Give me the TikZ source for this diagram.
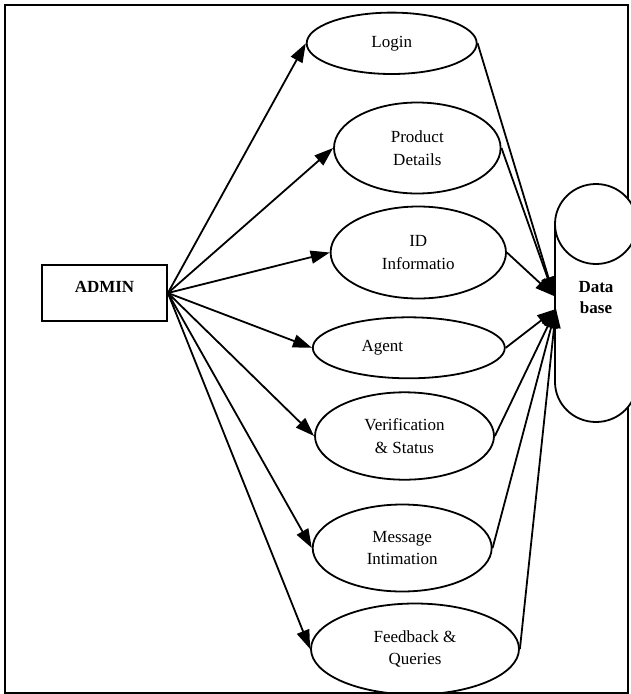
\documentclass[tikz,border=0pt]{standalone}
\usepackage{fontspec}
\setmainfont{Liberation Serif}
\usetikzlibrary{shapes.geometric,arrows.meta}
\begin{document}
\begin{tikzpicture}[x=1pt,y=-1pt,
  usecase/.style={draw=black, line width=1.8pt, ellipse, inner sep=0pt, align=center,
    font=\fontsize{17}{22.8}\selectfont},
  actor/.style={draw=black, line width=1.8pt, rectangle, inner sep=0pt,
    minimum width=125pt, minimum height=56pt},
  boldtext/.style={align=center, font=\bfseries\fontsize{17}{21.6}\selectfont},
  flow/.style={line width=1.8pt, -{Triangle[length=19pt,width=13pt]}},
  outline/.style={line width=1.8pt}]
\useasboundingbox (0,0) rectangle (631,694);
\clip (0,0) rectangle (631,694);

% page frame
\draw[line width=2pt] (5,5) rectangle (628,692.5);

% database store: white body over the frame, round top and bottom
\fill[white] (555,224) rectangle (660,382);
\fill[white] (596,224) ellipse [x radius=41, y radius=40];
\fill[white] (596,382) ellipse [x radius=41, y radius=40];
\draw[outline] (596,224) ellipse [x radius=41, y radius=40];
\draw[outline] (555,224) -- (555,382);
\begin{scope}
  \clip (540,382) rectangle (700,500);
  \draw[outline] (596,382) ellipse [x radius=41, y radius=40];
\end{scope}
\node[boldtext] (db) at (596,297.5) {Data\\base};
\coordinate (dbu) at (554,296);
\coordinate (dbl) at (556,309);

% actor
\node[actor] (admin) at (104.5,293) {};
\node[boldtext] (admintext) at (104.5,287) {ADMIN};

% use cases
\node[usecase, minimum width=170pt, minimum height=61.4pt] (login) at (391.7,43.3) {Login};
\node[usecase, minimum width=166.6pt, minimum height=91pt] (product) at (417.3,148) {Product\\Details};
\node[usecase, minimum width=175.4pt, minimum height=92pt] (idinfo) at (418.3,252.5) {ID\\Informatio};
\node[usecase, minimum width=192pt, minimum height=61pt,
  label={[xshift=-26.5pt, font=\fontsize{17}{22.8}\selectfont]center:Agent}] (agent) at (408.8,347.8) {};
\node[usecase, minimum width=179pt, minimum height=87.4pt] (verify) at (404.5,436) {Verification\\\& Status};
\node[usecase, minimum width=179pt, minimum height=87pt] (message) at (402.2,548) {Message\\Intimation};
\node[usecase, minimum width=208pt, minimum height=91pt] (feedback) at (415,649) {Feedback \&\\Queries};

% admin to each use case
\foreach \n in {login,product,idinfo,agent,verify,message,feedback}
  \draw[flow] (admin.east) -- (\n.west);

% each use case to the database
\foreach \n in {login,product,idinfo}
  \draw[flow] (\n.east) -- (dbu);
\foreach \n in {agent,verify,message,feedback}
  \draw[flow] (\n.east) -- (dbl);
\end{tikzpicture}
\end{document}
